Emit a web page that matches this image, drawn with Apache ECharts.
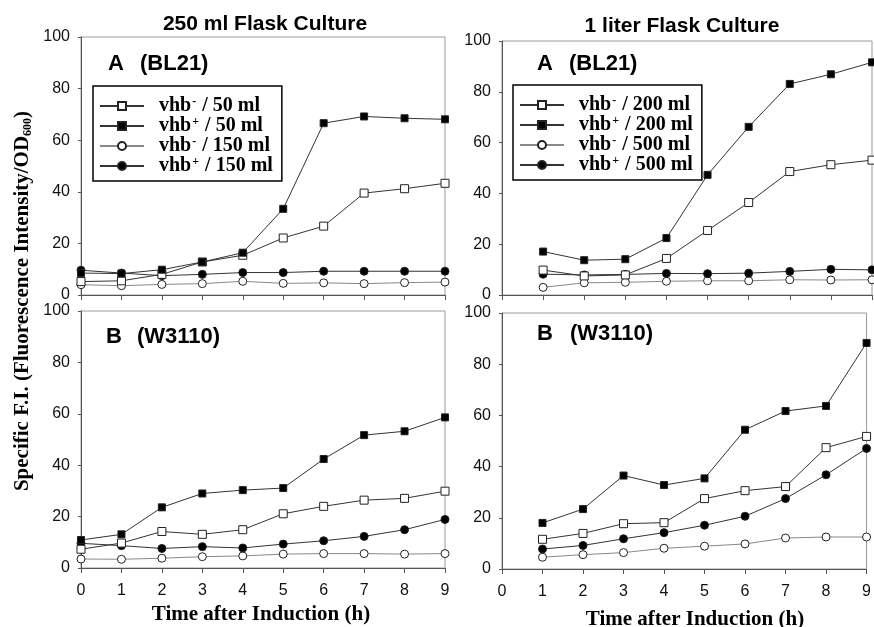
<!DOCTYPE html>
<html>
<head>
<meta charset="utf-8">
<script src="https://cdn.jsdelivr.net/npm/echarts@6/dist/echarts.min.js"></script>
<style>
html,body{margin:0;padding:0;background:#fff;}
#chart{width:874px;height:627px;}
</style>
</head>
<body>
<div id="chart"></div>
<script>
// ---- data ----
const hoursL = [0, 1, 2, 3, 4, 5, 6, 7, 8, 9];
const hoursR = [1, 2, 3, 4, 5, 6, 7, 8, 9];
const xTicks = [0, 1, 2, 3, 4, 5, 6, 7, 8, 9];
const yTicks = [0, 20, 40, 60, 80, 100];

const namesL = ['vhb- / 50 ml', 'vhb+ / 50 ml', 'vhb- / 150 ml', 'vhb+ / 150 ml'];
const namesR = ['vhb- / 200 ml', 'vhb+ / 200 ml', 'vhb- / 500 ml', 'vhb+ / 500 ml'];

// A (BL21), 250 ml flask
const aL_minus50  = [5.2, 5.5, 8.0, 12.8, 15.4, 22.1, 26.7, 39.5, 41.2, 43.3];
const aL_plus50   = [8.5, 8.3, 9.8, 12.8, 16.4, 33.4, 66.6, 69.2, 68.5, 68.1];
const aL_minus150 = [4.0, 3.6, 4.1, 4.4, 5.3, 4.5, 4.7, 4.4, 4.8, 5.0];
const aL_plus150  = [9.6, 8.5, 7.5, 8.0, 8.7, 8.7, 9.2, 9.2, 9.2, 9.2];

// A (BL21), 1 liter flask
const aR_minus200 = [9.8, 7.5, 7.9, 14.4, 25.4, 36.4, 48.6, 51.3, 53.1];
const aR_plus200  = [17.1, 13.7, 14.1, 22.4, 47.3, 66.2, 83.1, 86.9, 91.6];
const aR_minus500 = [3.0, 4.8, 5.0, 5.4, 5.6, 5.6, 6.0, 5.9, 6.0];
const aR_plus500  = [8.2, 7.9, 8.1, 8.5, 8.4, 8.6, 9.3, 10.1, 9.9];

// B (W3110), 250 ml flask
const bL_minus50  = [7.3, 9.7, 14.2, 13.1, 14.9, 21.1, 24.0, 26.4, 27.1, 29.9];
const bL_plus50   = [10.9, 13.1, 23.6, 29.0, 30.3, 31.1, 42.4, 51.7, 53.2, 58.6];
const bL_minus150 = [3.5, 3.4, 3.8, 4.4, 4.7, 5.4, 5.6, 5.6, 5.4, 5.6];
const bL_plus150  = [9.6, 8.7, 7.6, 8.3, 7.8, 9.3, 10.6, 12.3, 14.9, 18.9];

// B (W3110), 1 liter flask
const bR_minus200 = [11.6, 13.9, 17.7, 18.1, 27.5, 30.6, 32.2, 47.4, 51.8];
const bR_plus200  = [18.0, 23.4, 36.5, 32.8, 35.4, 54.4, 61.7, 63.7, 88.3];
const bR_minus500 = [4.6, 5.6, 6.4, 8.1, 8.9, 9.8, 12.1, 12.5, 12.5];
const bR_plus500  = [7.8, 9.2, 11.8, 14.2, 17.1, 20.6, 27.5, 36.8, 47.1];

// ---- chart ----
const SANS = '"Liberation Sans", Arial, sans-serif';
const SERIF = '"Liberation Serif", "Times New Roman", serif';
const chart = echarts.init(document.getElementById('chart'), null, {renderer: 'canvas'});

const grids = [
  {left: 81, top: 37, width: 364, height: 258},
  {left: 502, top: 41, width: 370, height: 254},
  {left: 81, top: 311, width: 364, height: 257},
  {left: 502, top: 313, width: 370, height: 256}
].map(g => Object.assign({show: true, borderColor: '#9a9a9a', borderWidth: 1, backgroundColor: 'transparent', containLabel: false}, g));

function xAx(i, showLabel) {
  return {
    type: 'value', gridIndex: i, min: xTicks[0], max: xTicks[xTicks.length - 1], interval: 1,
    axisLine: {show: true, lineStyle: {color: '#555', width: 1}},
    axisTick: {show: true, length: 5, inside: false, lineStyle: {color: '#555'}},
    splitLine: {show: false},
    axisLabel: {show: showLabel, fontFamily: SANS, fontSize: 16, color: '#111', margin: 15}
  };
}
function yAx(i) {
  return {
    type: 'value', gridIndex: i, min: yTicks[0], max: yTicks[yTicks.length - 1], interval: 20,
    axisLine: {show: true, lineStyle: {color: '#555', width: 1}},
    axisTick: {show: true, length: 3, inside: false, lineStyle: {color: '#555'}},
    splitLine: {show: false},
    axisLabel: {show: true, fontFamily: SANS, fontSize: 16, color: '#111', margin: 11}
  };
}

const styles = {
  openSq:  {symbol: 'rect', symbolSize: 8, fill: '#fff', line: '#333'},
  fillSq:  {symbol: 'rect', symbolSize: 7, fill: '#000', line: '#333'},
  openCi:  {symbol: 'circle', symbolSize: 8, fill: '#fff', line: '#888'},
  fillCi:  {symbol: 'circle', symbolSize: 8, fill: '#000', line: '#333'}
};

function mk(name, kind, xs, ys, gi) {
  const s = styles[kind];
  return {
    name: name, type: 'line', xAxisIndex: gi, yAxisIndex: gi,
    data: xs.map((x, i) => [x, ys[i]]),
    symbol: s.symbol, symbolSize: s.symbolSize, showAllSymbol: true,
    lineStyle: {color: s.line, width: 1},
    itemStyle: {color: s.fill, borderColor: '#222', borderWidth: 1, opacity: 1},
    emphasis: {disabled: true},
    animation: false, z: kind === 'fillSq' ? 5 : (kind === 'openSq' ? 4 : 3)
  };
}

const series = [
  mk(namesL[2], 'openCi', hoursL, aL_minus150, 0),
  mk(namesL[3], 'fillCi', hoursL, aL_plus150, 0),
  mk(namesL[0], 'openSq', hoursL, aL_minus50, 0),
  mk(namesL[1], 'fillSq', hoursL, aL_plus50, 0),

  mk(namesR[2], 'openCi', hoursR, aR_minus500, 1),
  mk(namesR[3], 'fillCi', hoursR, aR_plus500, 1),
  mk(namesR[0], 'openSq', hoursR, aR_minus200, 1),
  mk(namesR[1], 'fillSq', hoursR, aR_plus200, 1),

  mk('B ' + namesL[2], 'openCi', hoursL, bL_minus150, 2),
  mk('B ' + namesL[3], 'fillCi', hoursL, bL_plus150, 2),
  mk('B ' + namesL[0], 'openSq', hoursL, bL_minus50, 2),
  mk('B ' + namesL[1], 'fillSq', hoursL, bL_plus50, 2),

  mk('B ' + namesR[2], 'openCi', hoursR, bR_minus500, 3),
  mk('B ' + namesR[3], 'fillCi', hoursR, bR_plus500, 3),
  mk('B ' + namesR[0], 'openSq', hoursR, bR_minus200, 3),
  mk('B ' + namesR[1], 'fillSq', hoursR, bR_plus200, 3)
];

function legendFmt(name) {
  const sign = name.charAt(3);
  const rest = name.slice(4);
  return '{b|vhb}{s|' + sign + '}{b|' + rest + '}';
}
function legend(names, left, top) {
  return {
    data: names, orient: 'vertical', left: left, top: top,
    itemWidth: 44, itemHeight: 10, itemGap: 0,
    padding: [10, 9, 5, 6],
    borderColor: '#000', borderWidth: 1.5, backgroundColor: '#fff',
    selectedMode: false,
    formatter: legendFmt,
    textStyle: {
      fontFamily: SERIF, fontWeight: 'bold', fontSize: 20, color: '#000',
      padding: [0, 0, 0, 10],
      rich: {
        b: {fontFamily: SERIF, fontWeight: 'bold', fontSize: 20, color: '#000', lineHeight: 20},
        s: {fontFamily: SERIF, fontWeight: 'bold', fontSize: 12, color: '#000', lineHeight: 9, verticalAlign: 'top', padding: [0, 1, 0, 1]}
      }
    }
  };
}

function txt(text, x, y, font, align) {
  return {type: 'text', x: x, y: y, silent: true, z: 100,
    style: {text: text, font: font, fill: '#000', textAlign: align || 'left', textVerticalAlign: 'middle'}};
}

const graphic = [
  txt('250 ml Flask Culture', 265, 24, 'bold 21px ' + SANS, 'center'),
  txt('1 liter Flask Culture', 682, 26, 'bold 21px ' + SANS, 'center'),
  txt('A', 108, 64, 'bold 22px ' + SANS),
  txt('(BL21)', 140, 64, 'bold 22px ' + SANS),
  txt('A', 537, 64, 'bold 22px ' + SANS),
  txt('(BL21)', 569, 64, 'bold 22px ' + SANS),
  txt('B', 106, 337, 'bold 22px ' + SANS),
  txt('(W3110)', 137, 337, 'bold 22px ' + SANS),
  txt('B', 537, 334, 'bold 22px ' + SANS),
  txt('(W3110)', 570, 334, 'bold 22px ' + SANS),
  txt('Time after Induction (h)', 261, 615, 'bold 21px ' + SERIF, 'center'),
  txt('Time after Induction (h)', 695, 620, 'bold 21px ' + SERIF, 'center'),
  {
    type: 'text', x: 23, y: 301, rotation: Math.PI / 2, silent: true, z: 100,
    style: {
      text: '{t|Specific F.I. (Fluorescence Intensity/OD}{u|600}{t|)}',
      textAlign: 'center', textVerticalAlign: 'middle',
      rich: {
        t: {fontFamily: SERIF, fontWeight: 'bold', fontSize: 21, fill: '#000', lineHeight: 22},
        u: {fontFamily: SERIF, fontWeight: 'bold', fontSize: 12, fill: '#000', lineHeight: 22, verticalAlign: 'bottom'}
      }
    }
  }
];

chart.setOption({
  animation: false,
  backgroundColor: '#fff',
  grid: grids,
  xAxis: [xAx(0, false), xAx(1, false), xAx(2, true), xAx(3, true)],
  yAxis: [yAx(0), yAx(1), yAx(2), yAx(3)],
  legend: [legend(namesL, 93, 86), legend(namesR, 513, 85)],
  series: series,
  graphic: graphic
});
</script>
</body>
</html>
